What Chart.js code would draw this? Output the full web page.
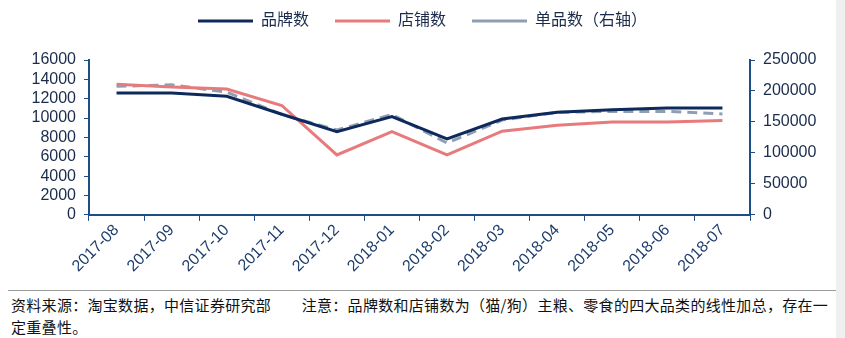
<!DOCTYPE html>
<html>
<head>
<meta charset="utf-8">
<script src="https://cdn.jsdelivr.net/npm/chart.js@4"></script>
<style>
  html, body { margin: 0; padding: 0; background: #fff; }
  body { width: 845px; height: 338px; overflow: hidden; position: relative; }
  #wrap { position: absolute; left: 0; top: 0; width: 845px; height: 276px; }
  #rule { position: absolute; left: 8px; right: 0; top: 290px; border-top: 1px solid #9a9a9a; }
  #note {
    position: absolute; left: 11px; top: 294px; width: 832px;
    font-family: "Noto Sans CJK SC", sans-serif; font-size: 15px; line-height: 22px;
    letter-spacing: 0.3px; color: #111;
  }
  #edge { position: absolute; right: 0; top: 0; width: 9px; height: 338px; background: #efefef; }
</style>
</head>
<body>
<div id="wrap"><canvas id="chart"></canvas></div>
<div id="rule"></div>
<div id="note">资料来源：淘宝数据，中信证券研究部　　注意：品牌数和店铺数为（猫/狗）主粮、零食的四大品类的线性加总，存在一定重叠性。</div>
<div id="edge"></div>
<script>
const months = ["2017-08", "2017-09", "2017-10", "2017-11", "2017-12", "2018-01",
                "2018-02", "2018-03", "2018-04", "2018-05", "2018-06", "2018-07"];
const brands = [12600, 12580, 12250, 10400, 8600, 10150, 7850, 9900, 10600, 10850, 11050, 11050];
const stores = [13500, 13200, 13000, 11300, 6200, 8600, 6200, 8650, 9250, 9600, 9600, 9750];
const items  = [207500, 210000, 198000, 162000, 137000, 162000, 116000, 153000, 165500, 167000, 167000, 163000];

const navy = "#0e2a5c";
const axisBlue = "#1d4f86";
const font = "'Liberation Sans', 'Noto Sans CJK SC', sans-serif";

// plain numbers on the value axes, no thousands separators
const plain = function (value) { return String(value); };

// extra room between the legend and the plot
const legendGap = {
    id: "legendGap",
    beforeInit(chart) {
        const fit = chart.legend.fit;
        chart.legend.fit = function () {
            fit.bind(chart.legend)();
            this.height += 21;
        };
    },
};

const ctx = document.getElementById("chart").getContext("2d");

new Chart(ctx, {
    type: "line",
    plugins: [legendGap],
    data: {
        labels: months,
        datasets: [
            {
                label: "品牌数",
                data: brands,
                borderColor: navy,
                backgroundColor: navy,
                borderWidth: 3,
                pointRadius: 0,
                yAxisID: "y",
            },
            {
                label: "店铺数",
                data: stores,
                borderColor: "#e87a7c",
                backgroundColor: "#e87a7c",
                borderWidth: 3,
                pointRadius: 0,
                yAxisID: "y",
            },
            {
                label: "单品数（右轴）",
                data: items,
                borderColor: "#8f9fb3",
                backgroundColor: "#8f9fb3",
                borderWidth: 3,
                borderDash: [10, 6],
                pointRadius: 0,
                yAxisID: "y1",
            },
        ],
    },
    options: {
        responsive: true,
        maintainAspectRatio: false,
        animation: false,
        layout: { padding: { top: -13, right: 0, left: 0, bottom: 0 } },
        plugins: {
            tooltip: { enabled: false },
            legend: {
                position: "top",
                labels: {
                    usePointStyle: true,
                    pointStyle: "line",
                    pointStyleWidth: 55,
                    boxHeight: 4,
                    padding: 26,
                    color: "#1a2b4c",
                    font: { family: font, size: 16 },
                },
            },
        },
        scales: {
            x: {
                offset: true,
                border: { color: axisBlue, width: 2 },
                grid: { display: true, drawOnChartArea: false, color: axisBlue, tickLength: 6, offset: true },
                ticks: {
                    autoSkip: false,
                    color: "#1d3d6b",
                    font: { family: font, size: 16 },
                    maxRotation: 45,
                    minRotation: 45,
                    padding: 0,
                },
            },
            y: {
                position: "left",
                min: 0,
                max: 16000,
                border: { color: axisBlue, width: 2 },
                grid: { display: true, drawOnChartArea: false, color: axisBlue, tickLength: 5 },
                ticks: {
                    stepSize: 2000,
                    autoSkip: false,
                    color: "#1a2b4c",
                    font: { family: font, size: 16 },
                    padding: 8,
                    callback: plain,
                },
                afterFit: function (axis) { axis.width = 89; },
            },
            y1: {
                position: "right",
                min: 0,
                max: 250000,
                border: { color: axisBlue, width: 2 },
                grid: { display: true, drawOnChartArea: false, color: axisBlue, tickLength: 5 },
                ticks: {
                    stepSize: 50000,
                    autoSkip: false,
                    color: "#1a2b4c",
                    font: { family: font, size: 16 },
                    padding: 8,
                    callback: plain,
                },
                afterFit: function (axis) { axis.width = 95; },
            },
        },
    },
});
</script>
</body>
</html>
